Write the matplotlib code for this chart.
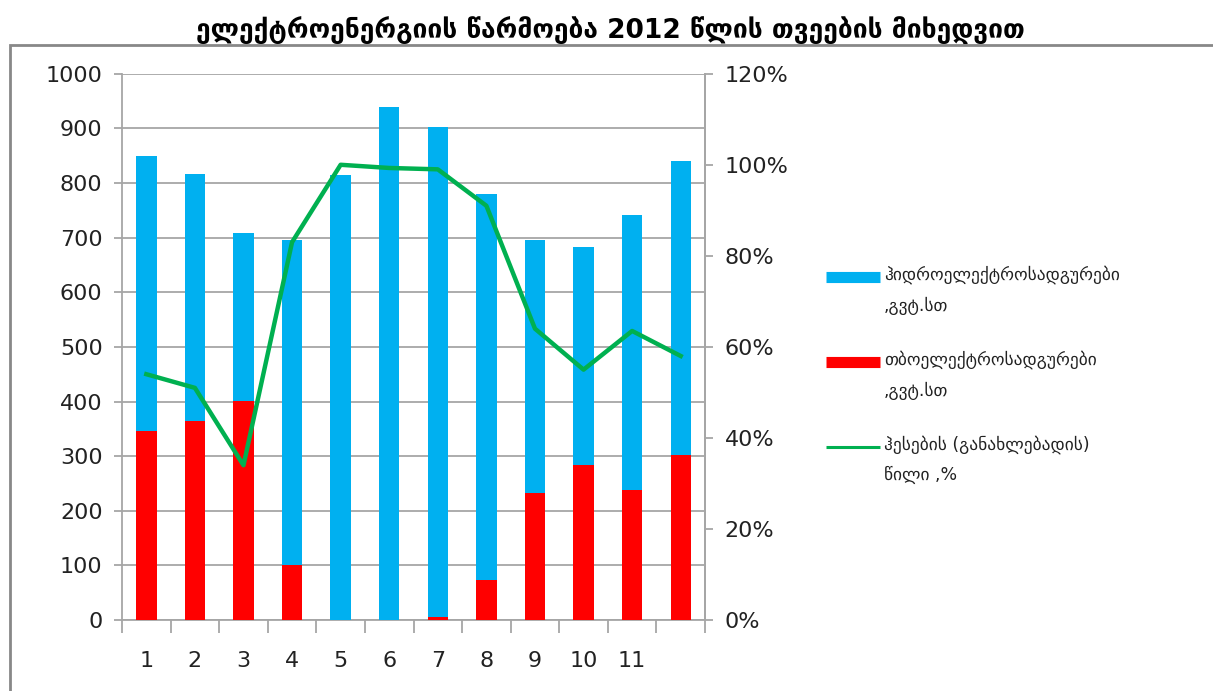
import matplotlib
matplotlib.use("Agg")
import matplotlib.pyplot as plt
from matplotlib.lines import Line2D
from matplotlib.patches import Rectangle
from matplotlib.ticker import FuncFormatter

# data
months = [1, 2, 3, 4, 5, 6, 7, 8, 9, 10, 11, 12]
month_labels = ["1", "2", "3", "4", "5", "6", "7", "8", "9", "10", "11", ""]
thermal = [346, 364, 401, 100, 0, 0, 5, 73, 232, 284, 238, 302]
hydro = [504, 453, 308, 596, 815, 940, 898, 707, 464, 399, 504, 538]
renew_share = [54, 51, 34, 83, 100, 99.3, 99, 91, 64, 55, 63.5, 58]

title = "ელექტროენერგიის წარმოება 2012 წლის თვეების მიხედვით"
lbl_hydro = "ჰიდროელექტროსადგურები\n,გვტ.სთ"
lbl_thermal = "თბოელექტროსადგურები\n,გვტ.სთ"
lbl_share = "ჰესების (განახლებადის)\nწილი ,%"

blue = "#00b0f0"
red = "#ff0000"
green = "#00b050"
grid_col = "#a6a6a6"

plt.rcParams["font.family"] = ["DejaVu Sans"]

fig = plt.figure(figsize=(12.13, 6.91), dpi=100)
ax = fig.add_axes([0.1006, 0.1027, 0.4806, 0.7906])

ax.bar(months, thermal, width=0.42, color=red, zorder=3)
ax.bar(months, hydro, width=0.42, bottom=thermal, color=blue, zorder=3)

ax.set_xlim(0.5, 12.5)
ax.set_ylim(0, 1000)
ax.set_yticks(range(0, 1001, 100))
ax.yaxis.grid(True, color=grid_col, linewidth=1.3, zorder=0)
ax.set_xticks(months)
ax.set_xticklabels(month_labels)
ax.set_xticks([m + 0.5 for m in [0] + months], minor=True)
ax.tick_params(axis="x", which="major", length=0, pad=22, labelsize=16, labelcolor="#222222")
ax.tick_params(axis="x", which="minor", length=9, color=grid_col, width=1.3)
ax.tick_params(axis="y", length=6, color=grid_col, width=1.3, labelsize=16, labelcolor="#222222", pad=8)
for s in ["left", "bottom", "right"]:
    ax.spines[s].set_color(grid_col)
    ax.spines[s].set_linewidth(1.3)
ax.spines["top"].set_visible(False)

ax2 = ax.twinx()
ax2.plot(months, renew_share, color=green, linewidth=3.2, zorder=4)
ax2.set_ylim(0, 120)
ax2.set_yticks(range(0, 121, 20))
ax2.yaxis.set_major_formatter(FuncFormatter(lambda v, p: f"{int(v)}%"))
ax2.tick_params(axis="y", length=6, color=grid_col, width=1.3, labelsize=16, labelcolor="#222222", pad=8)
for s in ["left", "bottom", "top"]:
    ax2.spines[s].set_visible(False)
ax2.spines["right"].set_color(grid_col)
ax2.spines["right"].set_linewidth(1.3)

# legend drawn by hand so the key sits on the first line of each label
W, H = 1213, 691
entries = [(blue, 8, lbl_hydro, 277), (red, 8, lbl_thermal, 362), (green, 2.2, lbl_share, 447)]
for col, lw, lbl, ypx in entries:
    fig.add_artist(Line2D([826 / W, 880 / W], [1 - ypx / H, 1 - ypx / H],
                          transform=fig.transFigure, color=col, linewidth=lw,
                          solid_capstyle="butt"))
    fig.text(884 / W, 1 - (ypx - 12) / H, lbl, ha="left", va="top", fontsize=12.5,
             linespacing=1.9, color="#222222")

fig.patches.append(Rectangle((0.008, -0.01), 1.0, 0.945, transform=fig.transFigure,
                             fill=False, edgecolor="#888888", linewidth=2))
fig.text(0.503, 0.955, title, ha="center", va="center", fontsize=19, fontweight="bold")

fig.savefig("out.png", dpi=100)
